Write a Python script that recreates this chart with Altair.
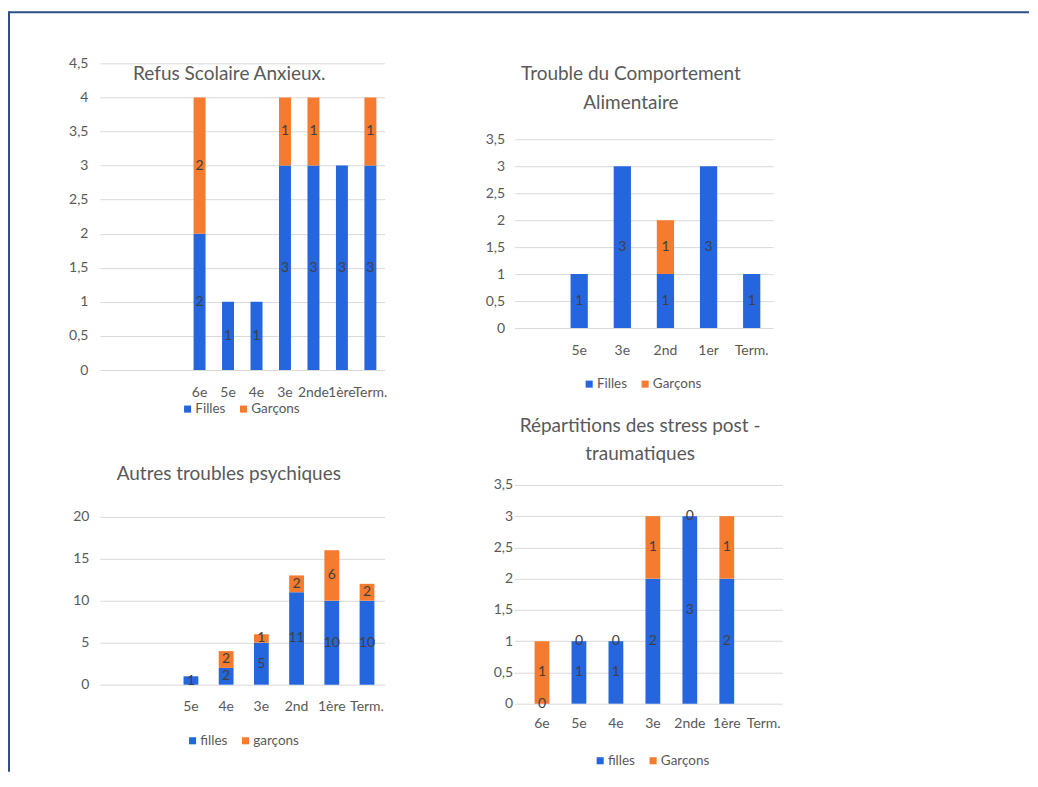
import altair as alt
import pandas as pd

FONT = "Lato"
BLUE = "#2566DF"
ORANGE = "#F47B2F"
GRID = "#D9D9D9"
AXIS_TXT = "#595959"
LABEL_TXT = "#404040"
FRAME = "#2F4E8C"

# ---------------- data ----------------
p1_title = ["Refus Scolaire Anxieux."]
p1_domain = [" ", "  ", "   ", "6e", "5e", "4e", "3e", "2nde", "1ère", "Term."]
p1_classes = ["6e", "5e", "4e", "3e", "2nde", "1ère", "Term."]
p1_filles = [2, 1, 1, 3, 3, 3, 3]
p1_garcons = [2, None, None, 1, 1, None, 1]
p1_series = ["Filles", "Garçons"]
p1_ticks = [0, 0.5, 1, 1.5, 2, 2.5, 3, 3.5, 4, 4.5]

p2_title = ["Trouble du Comportement", "Alimentaire"]
p2_domain = [" ", "5e", "3e", "2nd", "1er", "Term."]
p2_classes = ["5e", "3e", "2nd", "1er", "Term."]
p2_filles = [1, 3, 1, 3, 1]
p2_garcons = [None, None, 1, None, None]
p2_series = ["Filles", "Garçons"]
p2_ticks = [0, 0.5, 1, 1.5, 2, 2.5, 3, 3.5]

p3_title = ["Autres troubles psychiques"]
p3_domain = [" ", "  ", "5e", "4e", "3e", "2nd", "1ère", "Term."]
p3_classes = ["5e", "4e", "3e", "2nd", "1ère", "Term."]
p3_filles = [1, 2, 5, 11, 10, 10]
p3_garcons = [None, 2, 1, 2, 6, 2]
p3_series = ["filles", "garçons"]
p3_ticks = [0, 5, 10, 15, 20]

p4_title = ["Répartitions des stress post -", "traumatiques"]
p4_domain = ["6e", "5e", "4e", "3e", "2nde", "1ère", "Term."]
p4_classes = ["6e", "5e", "4e", "3e", "2nde", "1ère", "Term."]
p4_filles = [0, 1, 1, 2, 3, 2, None]
p4_garcons = [1, 0, 0, 1, 0, 1, None]
p4_series = ["filles", "Garçons"]
p4_ticks = [0, 0.5, 1, 1.5, 2, 2.5, 3, 3.5]

one = pd.DataFrame({"k": [0]})


def make_df(classes, filles, garcons, series):
    rows = []
    for c, f, g in zip(classes, filles, garcons):
        for k, v in enumerate((f, g)):
            if v is not None:
                rows.append({"cat": c, "series": series[k], "order": k, "value": int(v)})
    return pd.DataFrame(rows)


def panel(title, domain, classes, filles, garcons, series, ticks, width, height,
          ymax, pad, xlabpad, ylabpad, legx, legy, tx, ty, lh,
          outer=None, align=0.5, extra=None):
    df = make_df(classes, filles, garcons, series)
    base = alt.Chart(df).transform_stack(
        stack="value", groupby=["cat"], as_=["v0", "v1"],
        sort=[alt.SortField("order", order="ascending")],
    ).transform_calculate(mid="(datum.v0 + datum.v1) / 2")

    xscale = alt.Scale(domain=domain, paddingInner=pad,
                       paddingOuter=pad / 2 if outer is None else outer, align=align)
    xaxis = alt.Axis(title=None, labelAngle=0, domain=False, ticks=False, grid=False,
                     labelFont=FONT, labelFontSize=14, labelColor=AXIS_TXT,
                     labelPadding=xlabpad, labelOverlap=False)
    yscale = alt.Scale(domain=[0, ymax], nice=False, zero=True)
    yaxis = alt.Axis(title=None, values=ticks, domain=False, ticks=False, tickSize=0,
                     grid=True, gridColor=GRID, gridWidth=1, format="~g",
                     labelFont=FONT, labelFontSize=14, labelColor=AXIS_TXT,
                     labelPadding=ylabpad, labelExpr="replace(datum.label, '.', ',')")

    bars = base.mark_bar().encode(
        x=alt.X("cat:N", scale=xscale, axis=xaxis),
        y=alt.Y("v0:Q", scale=yscale, axis=yaxis),
        y2="v1:Q",
        color=alt.Color(
            "series:N",
            scale=alt.Scale(domain=series, range=[BLUE, ORANGE]),
            legend=alt.Legend(title=None, orient="none", legendX=legx, legendY=legy,
                              direction="horizontal", symbolType="square",
                              symbolSize=50, symbolStrokeWidth=0,
                              labelFont=FONT, labelFontSize=13.5, labelColor=AXIS_TXT,
                              columnPadding=11, labelOffset=1, padding=0),
        ),
    )
    text = base.mark_text(font=FONT, fontSize=14, color=LABEL_TXT, baseline="middle").encode(
        x=alt.X("cat:N", scale=xscale, axis=xaxis),
        y=alt.Y("mid:Q", scale=yscale, axis=yaxis),
        text=alt.Text("value:Q"),
    )
    ttl = alt.Chart(one).mark_text(font=FONT, fontSize=19, color=AXIS_TXT, align="center",
                                   baseline="top", lineHeight=lh).encode(
        x=alt.value(tx), y=alt.value(ty), text=alt.value(title))
    layers = ([] if extra is None else extra) + [bars, text, ttl]
    return alt.layer(*layers).properties(width=width, height=height)


frame_top = alt.Chart(one).mark_rule(color=FRAME, strokeWidth=2).encode(
    x=alt.value(-91), x2=alt.value(930), y=alt.value(-51))
frame_left = alt.Chart(one).mark_rule(color=FRAME, strokeWidth=2).encode(
    x=alt.value(-91), y=alt.value(-52), y2=alt.value(709))

c1 = panel(p1_title, p1_domain, p1_classes, p1_filles, p1_garcons, p1_series, p1_ticks,
           285, 307, 4.5, 0.58, 16, 12, 81, 339, 129.5, 1.5, 30,
           extra=[frame_top, frame_left])
c2 = panel(p2_title, p2_domain, p2_classes, p2_filles, p2_garcons, p2_series, p2_ticks,
           259, 265, 3.5 * 265 / 189, 0.6, 15, 10, 68, 314, 116.5, 1.5, 29)
c3 = panel(p3_title, p3_domain, p3_classes, p3_filles, p3_garcons, p3_series, p3_ticks,
           285, 200, 20 * 200 / 168.3, 0.58, 15, 11, 86, 249, 129, -19.5, 30,
           outer=0.3326, align=0.563)
c4 = panel(p4_title, p4_domain, p4_classes, p4_filles, p4_garcons, p4_series, p4_ticks,
           268, 219, 3.5, 0.6, 13, 2, 79, 269, 125.7, -67.8, 27.5,
           outer=0.4216, align=0.644)

chart = alt.concat(
    c1, c2, c3, c4, columns=2,
    spacing={"row": 115, "column": 130},
    bounds="flush",
).resolve_scale(color="independent").resolve_legend(color="independent").properties(
    padding={"left": 0, "top": 2, "right": 0, "bottom": 0},
    background="white",
).configure_view(stroke=None)

chart.save("out.html", embed_options={"renderer": "svg", "actions": False})
